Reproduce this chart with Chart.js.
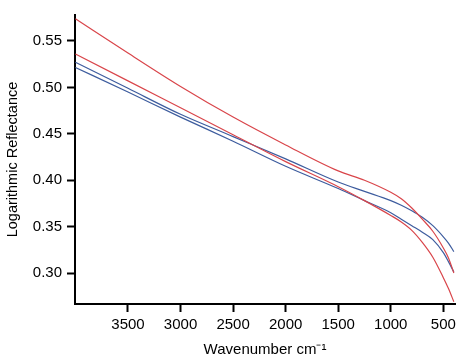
<!DOCTYPE html>
<html>
<head>
<meta charset="utf-8">
<script src="https://cdn.jsdelivr.net/npm/chart.js@4"></script>
<style>
  html, body { margin: 0; padding: 0; background: #fff; }
  #wrap { width: 468px; height: 362px; }
</style>
</head>
<body>
<div id="wrap"><canvas id="myChart" width="468" height="362"></canvas></div>
<script>
var wavenumbers = [4000, 3500, 3000, 2500, 2000, 1500, 1250, 1000, 900, 800, 700, 600, 500, 450, 400];

var red1  = [0.574, 0.537, 0.501, 0.468, 0.438, 0.410, 0.400, 0.387, 0.380, 0.370, 0.358, 0.345, 0.327, 0.316, 0.300];
var red2  = [0.536, 0.507, 0.478, 0.449, 0.420, 0.393, 0.378, 0.362, 0.355, 0.346, 0.333, 0.317, 0.295, 0.283, 0.269];
var blue1 = [0.527, 0.499, 0.471, 0.447, 0.423, 0.398, 0.388, 0.378, 0.373, 0.367, 0.360, 0.351, 0.339, 0.332, 0.323];
var blue2 = [0.5215, 0.495, 0.468, 0.442, 0.415, 0.391, 0.378, 0.365, 0.358, 0.351, 0.344, 0.336, 0.322, 0.312, 0.301];

var xTicks = [3500, 3000, 2500, 2000, 1500, 1000, 500];
var yTicks = [0.30, 0.35, 0.40, 0.45, 0.50, 0.55];

var RED = '#d9454a';
var BLUE = '#3d5c9e';

function pts(ys) {
    var out = [];
    for (var i = 0; i < wavenumbers.length; i++) {
        out.push({x: wavenumbers[i], y: ys[i]});
    }
    return out;
}

function line(label, ys, color) {
    return {
        label: label,
        data: pts(ys),
        borderColor: color,
        borderWidth: 1.2,
        pointRadius: 0,
        fill: false,
        cubicInterpolationMode: 'monotone'
    };
}

Chart.defaults.font.family = "'Liberation Sans', Arial, sans-serif";
Chart.defaults.color = '#000';

var ctx = document.getElementById('myChart').getContext('2d');
var myChart = new Chart(ctx, {
    type: 'line',
    data: {
        datasets: [
            line('R1', red1, RED),
            line('R2', red2, RED),
            line('B1', blue1, BLUE),
            line('B2', blue2, BLUE)
        ]
    },
    options: {
        responsive: false,
        animation: false,
        layout: { padding: { top: 15, right: 13, left: 0, bottom: 0 } },
        plugins: { legend: { display: false }, tooltip: { enabled: false } },
        scales: {
            x: {
                type: 'linear',
                reverse: true,
                min: 389,
                max: 4004,
                afterBuildTicks: function(s) {
                    s.ticks = xTicks.map(function(v) { return {value: v}; });
                },
                afterFit: function(s) { s.height = 58; },
                border: { display: true, color: '#000', width: 2 },
                grid: { drawOnChartArea: false, color: '#000', tickLength: 8, tickWidth: 2 },
                ticks: {
                    font: { size: 15 }, padding: 4, maxRotation: 0, autoSkip: false,
                    callback: function(v) { return String(v); }
                },
                title: {
                    display: true,
                    text: 'Wavenumber cm\u207B\u00B9',
                    font: { size: 15 },
                    padding: { top: 0, bottom: 3 }
                }
            },
            y: {
                min: 0.2666,
                max: 0.578,
                afterBuildTicks: function(s) {
                    s.ticks = yTicks.map(function(v) { return {value: v}; });
                },
                afterFit: function(s) { s.width = 75; },
                border: { display: true, color: '#000', width: 2 },
                grid: { drawOnChartArea: false, color: '#000', tickLength: 8, tickWidth: 2 },
                ticks: {
                    font: { size: 15 },
                    padding: 5,
                    callback: function(v) { return v.toFixed(2); }
                },
                title: {
                    display: true,
                    text: 'Logarithmic Reflectance',
                    font: { size: 14.5 },
                    padding: { top: 4, bottom: 0 }
                }
            }
        }
    }
});
</script>
</body>
</html>
